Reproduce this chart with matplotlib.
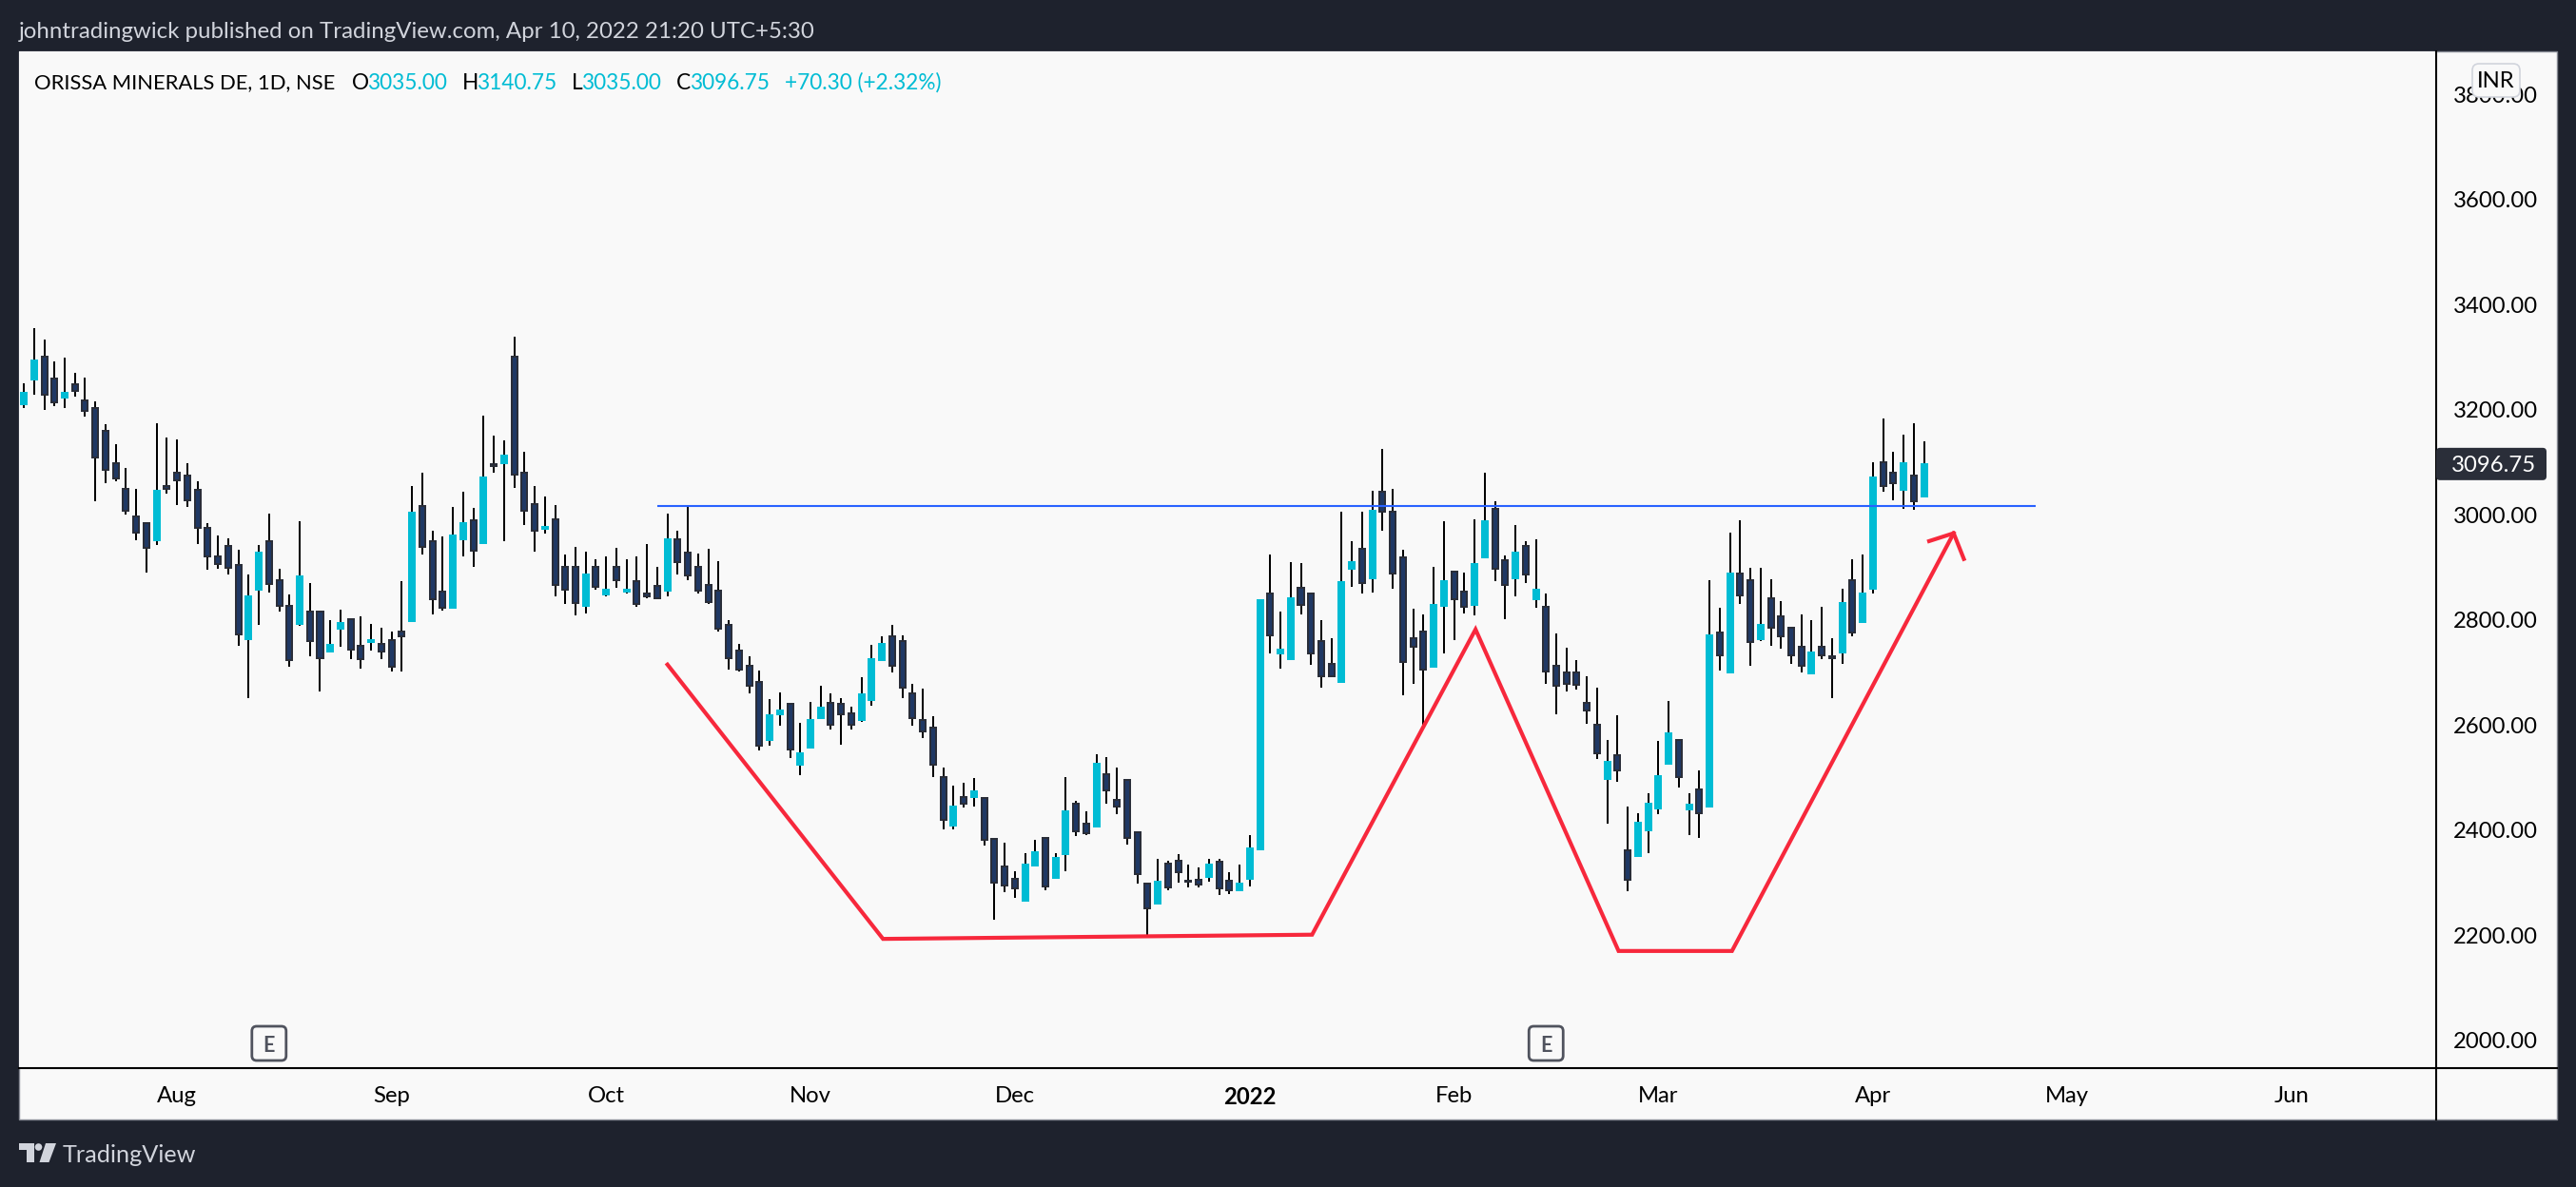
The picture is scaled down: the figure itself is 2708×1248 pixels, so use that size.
import matplotlib
matplotlib.use("Agg")
import matplotlib.pyplot as plt
from matplotlib.lines import Line2D
from matplotlib.patches import Circle, FancyBboxPatch, Polygon, Rectangle
from matplotlib.transforms import Affine2D

opens = [3210, 3258, 3301, 3260, 3224, 3249, 3218, 3204, 3160, 3099, 3050, 2996, 2984, 2952, 3055, 3081, 3075, 3048, 2976, 2920,
         2941, 2905, 2764, 2858, 2950, 2876, 2827, 2793, 2816, 2815, 2740, 2784, 2802, 2751, 2758, 2755, 2762, 2777, 2798, 3017,
         2950, 2854, 2824, 2954, 2990, 2947, 3097, 3099, 3301, 3081, 3021, 2974, 2992, 2901, 2901, 2827, 2901, 2849, 2901, 2854,
         2874, 2851, 2865, 2856, 2954, 2929, 2901, 2867, 2856, 2791, 2742, 2713, 2682, 2572, 2621, 2641, 2525, 2557, 2614, 2643,
         2641, 2623, 2610, 2648, 2724, 2769, 2760, 2661, 2610, 2595, 2501, 2409, 2463, 2463, 2461, 2384, 2331, 2308, 2266, 2333,
         2385, 2309, 2355, 2451, 2413, 2407, 2507, 2458, 2496, 2396, 2299, 2261, 2337, 2342, 2304, 2306, 2311, 2340, 2304, 2286,
         2308, 2364, 2850, 2736, 2726, 2861, 2850, 2760, 2717, 2682, 2898, 2935, 2879, 3044, 3006, 2919, 2765, 2777, 2711, 2827,
         2892, 2854, 2829, 2919, 3012, 2914, 2879, 2941, 2840, 2825, 2713, 2700, 2700, 2643, 2601, 2498, 2543, 2362, 2351, 2400,
         2441, 2527, 2572, 2440, 2478, 2445, 2776, 2700, 2889, 2876, 2764, 2842, 2807, 2785, 2749, 2699, 2749, 2731, 2738, 2876,
         2796, 2860, 3100, 3080, 3048, 3075, 3035.00]
highs = [3250, 3356, 3334, 3292, 3300, 3271, 3262, 3216, 3173, 3135, 3090, 3050, 2985, 3175, 3148, 3144, 3099, 3063, 2985, 2961,
         2956, 2934, 2887, 2943, 3003, 2898, 2849, 2988, 2871, 2816, 2800, 2820, 2802, 2807, 2793, 2786, 2778, 2874, 3055, 3081,
         2970, 2958, 3015, 3044, 3014, 3189, 3151, 3142, 3339, 3120, 3055, 3035, 3019, 2925, 2939, 2930, 2916, 2921, 2938, 2916,
         2921, 2945, 2901, 3003, 2970, 3017, 2927, 2936, 2911, 2800, 2755, 2731, 2704, 2650, 2662, 2641, 2604, 2644, 2675, 2661,
         2652, 2635, 2691, 2753, 2769, 2791, 2771, 2679, 2670, 2617, 2519, 2485, 2490, 2499, 2461, 2384, 2376, 2322, 2356, 2382,
         2385, 2356, 2501, 2456, 2436, 2545, 2539, 2519, 2496, 2396, 2299, 2346, 2342, 2355, 2335, 2329, 2346, 2346, 2320, 2335,
         2391, 2838, 2925, 2815, 2910, 2908, 2850, 2800, 2766, 3006, 2950, 3006, 3046, 3125, 3050, 2934, 2821, 2811, 2901, 2988,
         2892, 2891, 2992, 3081, 3026, 2923, 2981, 2949, 2954, 2851, 2775, 2747, 2724, 2693, 2671, 2572, 2619, 2445, 2432, 2471,
         2570, 2646, 2572, 2470, 2514, 2876, 2823, 2966, 2990, 2899, 2899, 2878, 2836, 2785, 2811, 2800, 2825, 2765, 2860, 2916,
         2925, 3100, 3184, 3120, 3153, 3175, 3140.75]
lows = [3203, 3229, 3200, 3206, 3204, 3225, 3187, 3025, 3061, 3063, 3001, 2952, 2891, 2943, 3041, 3019, 3015, 2945, 2896, 2898,
        2887, 2751, 2652, 2791, 2853, 2815, 2711, 2789, 2731, 2664, 2740, 2749, 2726, 2708, 2742, 2726, 2701, 2702, 2798, 2925,
        2811, 2818, 2822, 2920, 2901, 2945, 3081, 2950, 3052, 2981, 2930, 2965, 2845, 2831, 2809, 2813, 2858, 2845, 2862, 2851,
        2825, 2842, 2842, 2845, 2887, 2876, 2851, 2831, 2777, 2706, 2701, 2661, 2552, 2561, 2599, 2538, 2505, 2557, 2614, 2592,
        2563, 2592, 2606, 2637, 2724, 2700, 2651, 2599, 2575, 2501, 2402, 2402, 2443, 2445, 2371, 2230, 2282, 2271, 2266, 2333,
        2286, 2309, 2322, 2389, 2391, 2407, 2451, 2431, 2373, 2299, 2201, 2261, 2286, 2300, 2291, 2291, 2302, 2277, 2279, 2286,
        2293, 2364, 2736, 2708, 2726, 2811, 2715, 2671, 2691, 2682, 2863, 2851, 2853, 2970, 2860, 2657, 2679, 2592, 2711, 2736,
        2762, 2813, 2809, 2919, 2874, 2802, 2845, 2870, 2823, 2679, 2621, 2664, 2668, 2602, 2536, 2413, 2492, 2284, 2351, 2356,
        2430, 2527, 2481, 2391, 2385, 2445, 2704, 2700, 2831, 2713, 2760, 2751, 2746, 2717, 2700, 2697, 2726, 2651, 2717, 2769,
        2796, 2851, 3044, 3028, 3012, 3010, 3035.00]
closes = [3232, 3294, 3229, 3215, 3233, 3236, 3198, 3110, 3086, 3070, 3008, 2967, 2938, 3046, 3050, 3066, 3028, 2976, 2920, 2907,
          2900, 2773, 2845, 2929, 2869, 2827, 2724, 2882, 2760, 2728, 2753, 2795, 2744, 2726, 2762, 2740, 2711, 2769, 3005, 2939,
          2840, 2824, 2961, 2985, 2932, 3072, 3093, 3113, 3077, 3008, 2970, 2977, 2867, 2858, 2833, 2887, 2863, 2858, 2876, 2858,
          2831, 2845, 2842, 2954, 2910, 2885, 2856, 2834, 2784, 2728, 2706, 2675, 2561, 2619, 2628, 2554, 2547, 2610, 2633, 2601,
          2621, 2601, 2659, 2726, 2755, 2713, 2671, 2613, 2588, 2525, 2420, 2445, 2451, 2474, 2382, 2300, 2295, 2290, 2335, 2358,
          2293, 2347, 2436, 2398, 2394, 2527, 2476, 2445, 2385, 2317, 2251, 2302, 2291, 2320, 2302, 2297, 2335, 2290, 2286, 2299,
          2366, 2838, 2771, 2744, 2842, 2829, 2736, 2693, 2693, 2872, 2910, 2870, 3008, 3006, 2889, 2720, 2749, 2706, 2829, 2874,
          2840, 2825, 2907, 2988, 2898, 2867, 2928, 2887, 2858, 2702, 2675, 2679, 2677, 2628, 2547, 2530, 2514, 2306, 2414, 2451,
          2503, 2585, 2501, 2449, 2432, 2771, 2733, 2889, 2847, 2758, 2791, 2785, 2769, 2733, 2713, 2738, 2733, 2727, 2832, 2776,
          2851, 3071, 3055, 3061, 3099, 3026, 3096.75]

month_pos = [15, 36, 57, 77, 97, 120, 140, 160, 181, 200, 222]
month_labels = ["Aug", "Sep", "Oct", "Nov", "Dec", "2022", "Feb", "Mar", "Apr", "May", "Jun"]
price_ticks = [2000, 2200, 2400, 2600, 2800, 3000, 3200, 3400, 3600, 3800]
earnings_bars = [24, 149]

# drawings on the chart, (bar, price)
resistance_x = [62, 196.9]
resistance_y = [3017.5, 3017.5]
pattern_x = [63.0, 84.1, 126.1, 142.1, 156.1, 167.2, 188.9]
pattern_y = [2715, 2193, 2201, 2782, 2170, 2170, 2965]
head_x = [186.5, 188.9, 189.9]
head_y = [2950, 2965, 2916]

BG = "#1e222d"
PANE = "#f9f9f9"
UP = "#00bcd4"
DOWN = "#1f3864"
DOWN_EDGE = "#2a2e39"
RED = "#f7283c"
BLUE = "#2962ff"
FONT = "Lato"

W, H = 2708, 1248
fig = plt.figure(figsize=(W / 100, H / 100), dpi=100, facecolor=BG)
# picture pixels, y pointing down
pix = Affine2D().scale(1, -1).translate(0, H)


def put_text(x, y, s, color, size=17.2, ha="left", **kw):
    fig.text(x, y, s, transform=pix, color=color, fontsize=size, family=FONT, ha=ha, va="center_baseline", **kw)


fig.add_artist(Rectangle((20, 54), 2668, 1123, transform=pix, facecolor=PANE, edgecolor="#878a94", linewidth=1.0, zorder=-1))

ax = fig.add_axes([20 / W, 1 - 1122.5 / H, 2541 / W, 1068.5 / H], facecolor=PANE)
ax.set_xlim(-0.47, 236.13)
ax.set_ylim(1948, 3882)

xs = list(range(len(opens)))
ax.vlines(xs, lows, highs, color="black", linewidth=1.44, zorder=2)
for x, o, c in zip(xs, opens, closes):
    up = c >= o
    ax.bar(x, abs(c - o), bottom=min(o, c), width=0.56,
           color=UP if up else DOWN, edgecolor=UP if up else DOWN_EDGE, linewidth=1.44, zorder=3)

ax.plot(resistance_x, resistance_y, color=BLUE, linewidth=1.5, zorder=4, solid_capstyle="butt")
ax.plot(pattern_x, pattern_y, color=RED, linewidth=3.0, zorder=4, solid_joinstyle="miter")
ax.plot(head_x, head_y, color=RED, linewidth=3.0, zorder=4, solid_joinstyle="miter")

ax.yaxis.tick_right()
ax.set_yticks(price_ticks)
ax.set_yticklabels([f"{p:.2f}" for p in price_ticks], family=FONT, fontsize=17.2, color="black", va="center_baseline")
ax.set_xticks(month_pos)
ax.set_xticklabels(month_labels, family=FONT, fontsize=17.2, color="black")
ax.get_xticklabels()[month_labels.index("2022")].set_fontweight("bold")
ax.tick_params(axis="both", length=0)
ax.tick_params(axis="y", pad=13)
ax.tick_params(axis="x", pad=14)
for name in ax.spines:
    ax.spines[name].set_visible(False)

# axis separators run through the whole pane
fig.add_artist(Line2D([2561, 2561], [54, 1177], transform=pix, color="black", linewidth=1.5))
fig.add_artist(Line2D([20, 2688], [1122.5, 1122.5], transform=pix, color="black", linewidth=1.5))

# earnings flags
for bar in earnings_bars:
    cx = ax.transData.transform((bar, 2000))[0]
    fig.add_artist(FancyBboxPatch((cx - 16, 1081), 32, 32, boxstyle="round,pad=2,rounding_size=5", transform=pix,
                                  facecolor=PANE, edgecolor="#50535e", linewidth=2.0, zorder=5))
    put_text(cx, 1097, "E", "#50535e", size=15.5, ha="center", fontweight="bold", zorder=6)

# last price tag
tag_y = H - ax.transData.transform((0, closes[-1]))[1]
fig.add_artist(FancyBboxPatch((2563, tag_y - 15), 112, 30, boxstyle="round,pad=2,rounding_size=4", transform=pix,
                              facecolor=DOWN_EDGE, edgecolor=DOWN_EDGE, linewidth=0, zorder=5))
put_text(2621, tag_y, f"{closes[-1]:.2f}", "white", ha="center", zorder=6)

# currency badge over the top tick label
fig.add_artist(FancyBboxPatch((2601, 69), 46, 31, boxstyle="round,pad=2,rounding_size=7", transform=pix,
                              facecolor=PANE, edgecolor="#d1d4dc", linewidth=1.2, zorder=5))
put_text(2624, 84, "INR", "black", ha="center", zorder=6)

# header and legend
put_text(20, 32, "johntradingwick published on TradingView.com, Apr 10, 2022 21:20 UTC+5:30", "#d1d4dc", size=17.3)
put_text(36, 85, "ORISSA MINERALS DE, 1D, NSE", "black", size=15.8)
o_txt, h_txt, l_txt, c_txt = [f"{v:.2f}" for v in (opens[-1], highs[-1], lows[-1], closes[-1])]
legend = [(370, "O", "black"), (386, o_txt, UP), (486, "H", "black"), (501, h_txt, UP), (601, "L", "black"),
          (611, l_txt, UP), (711, "C", "black"), (725, c_txt, UP), (825, "+70.30 (+2.32%)", UP)]
for x, s, col in legend:
    put_text(x, 85, s, col, size=16.3)

# TradingView logo
LOGO = "#d1d4dc"
fig.add_artist(Polygon([(20, 1202), (36, 1202), (36, 1222), (28, 1222), (28, 1209), (20, 1209)], transform=pix, facecolor=LOGO))
fig.add_artist(Circle((40.5, 1206), 3.8, transform=pix, facecolor=LOGO))
fig.add_artist(Polygon([(48, 1202), (59, 1202), (51.5, 1222), (41.5, 1222)], transform=pix, facecolor=LOGO))
put_text(66, 1213, "TradingView", LOGO, size=18.2)

fig.savefig("out.png", dpi=100, facecolor=BG)
